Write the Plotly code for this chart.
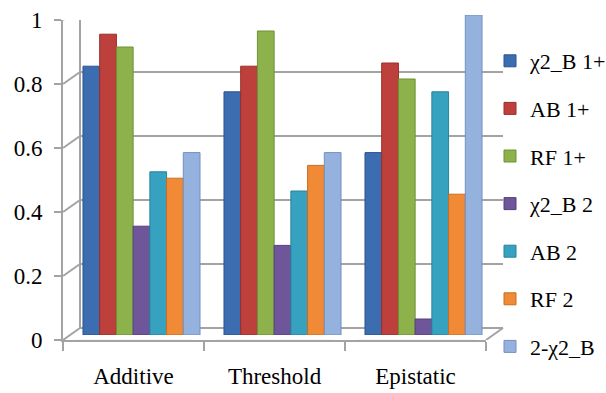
import plotly.graph_objects as go

W, H = 606, 393

categories = ["Additive", "Threshold", "Epistatic"]
series_names = ["χ2_B 1+", "AB 1+", "RF 1+", "χ2_B 2", "AB 2", "RF 2", "2-χ2_B"]
chi2_b_1 = [0.84, 0.76, 0.57]
ab_1 = [0.94, 0.84, 0.85]
rf_1 = [0.90, 0.95, 0.80]
chi2_b_2 = [0.34, 0.28, 0.05]
ab_2 = [0.51, 0.45, 0.76]
rf_2 = [0.49, 0.53, 0.44]
two_chi2_b = [0.57, 0.57, 1.00]
series_values = [chi2_b_1, ab_1, rf_1, chi2_b_2, ab_2, rf_2, two_chi2_b]
y_ticks = [0, 0.2, 0.4, 0.6, 0.8, 1.0]
y_tick_text = ["0", "0.2", "0.4", "0.6", "0.8", "1"]

colors = ["#3C6DB0", "#BE403C", "#8DB14B", "#6F559A", "#37A2BF", "#F08A37", "#95B1DE"]
edges = ["#2B5590", "#9A2E2B", "#6E9135", "#55407C", "#27839C", "#C96D22", "#7390C0"]

FONT = "Liberation Serif"
GRID = "#A3A3A3"

# pixel geometry of the pseudo-3D box
fx0, fx1 = 63, 486          # front axis x extent
fy0, fy1 = 340, 20          # front axis y for 0 and 1
dx, dy = 17, 12             # depth offset of back wall
bx, by = 8, 5               # bar offset (mid depth)

def px(x):
    return x / W

def py(y):
    return (H - y) / H

fig = go.Figure()

fig.add_trace(go.Bar(x=categories, y=[0, 0, 0], xaxis="x", yaxis="y",
                     showlegend=False, hoverinfo="skip", marker=dict(color="rgba(0,0,0,0)")))

for i, (name, vals) in enumerate(zip(series_names, series_values)):
    fig.add_trace(go.Bar(
        x=categories, y=vals, name=name, xaxis="x2", yaxis="y2",
        marker=dict(color=colors[i], line=dict(color=edges[i], width=1)),
        legendgroup=f"g{i}",
    ))

unit = 1.0 / (fy0 - fy1)
shapes = []
for v in y_ticks:
    shapes.append(dict(type="line", xref="paper", yref="y", layer="below",
                       x0=px(fx0 + dx), x1=px(fx1 + dx), y0=v + dy * unit, y1=v + dy * unit,
                       line=dict(color=GRID, width=2)))
    shapes.append(dict(type="line", xref="paper", yref="y", layer="below",
                       x0=px(fx0), x1=px(fx0 + dx), y0=v, y1=v + dy * unit,
                       line=dict(color=GRID, width=2)))
shapes.append(dict(type="line", xref="paper", yref="y", layer="below",
                   x0=px(fx0 + dx), x1=px(fx0 + dx), y0=dy * unit, y1=1 + dy * unit,
                   line=dict(color=GRID, width=2)))
shapes.append(dict(type="line", xref="paper", yref="y", layer="below",
                   x0=px(fx1), x1=px(fx1 + dx), y0=0, y1=dy * unit,
                   line=dict(color=GRID, width=2)))

fig.update_layout(
    width=W, height=H,
    margin=dict(l=0, r=0, t=0, b=0, autoexpand=False),
    paper_bgcolor="white", plot_bgcolor="rgba(0,0,0,0)",
    barmode="group", bargap=0.17, bargroupgap=0.0,
    font=dict(family=FONT, color="#000000"),
    xaxis=dict(domain=[px(fx0), px(fx1)], anchor="y", type="category",
               showline=True, linecolor=GRID, linewidth=2,
               ticks="outside", tickson="boundaries", ticklen=9, tickcolor=GRID, tickwidth=2,
               showgrid=False, tickfont=dict(size=23, family=FONT), automargin=False,
               ticklabelstandoff=14),
    yaxis=dict(domain=[py(fy0), py(fy1)], anchor="x", range=[0, 1],
               tickvals=y_ticks, ticktext=y_tick_text,
               showline=True, linecolor=GRID, linewidth=2,
               ticks="outside", ticklen=7, tickcolor=GRID, tickwidth=2,
               showgrid=False, zeroline=False, tickfont=dict(size=23, family=FONT),
               automargin=False, ticklabelstandoff=7),
    xaxis2=dict(domain=[px(fx0 + bx), px(fx1 + bx)], anchor="y2", type="category",
                visible=False, showgrid=False),
    yaxis2=dict(domain=[py(fy0 - by), py(fy1 - by)], anchor="x2", range=[0, 1],
                visible=False, showgrid=False, zeroline=False),
    legend=dict(x=px(490), y=py(40), xanchor="left", yanchor="top",
                font=dict(size=22, family=FONT), tracegroupgap=16,
                traceorder="grouped", bgcolor="rgba(0,0,0,0)"),
    shapes=shapes,
)

fig.write_html("out.html")
